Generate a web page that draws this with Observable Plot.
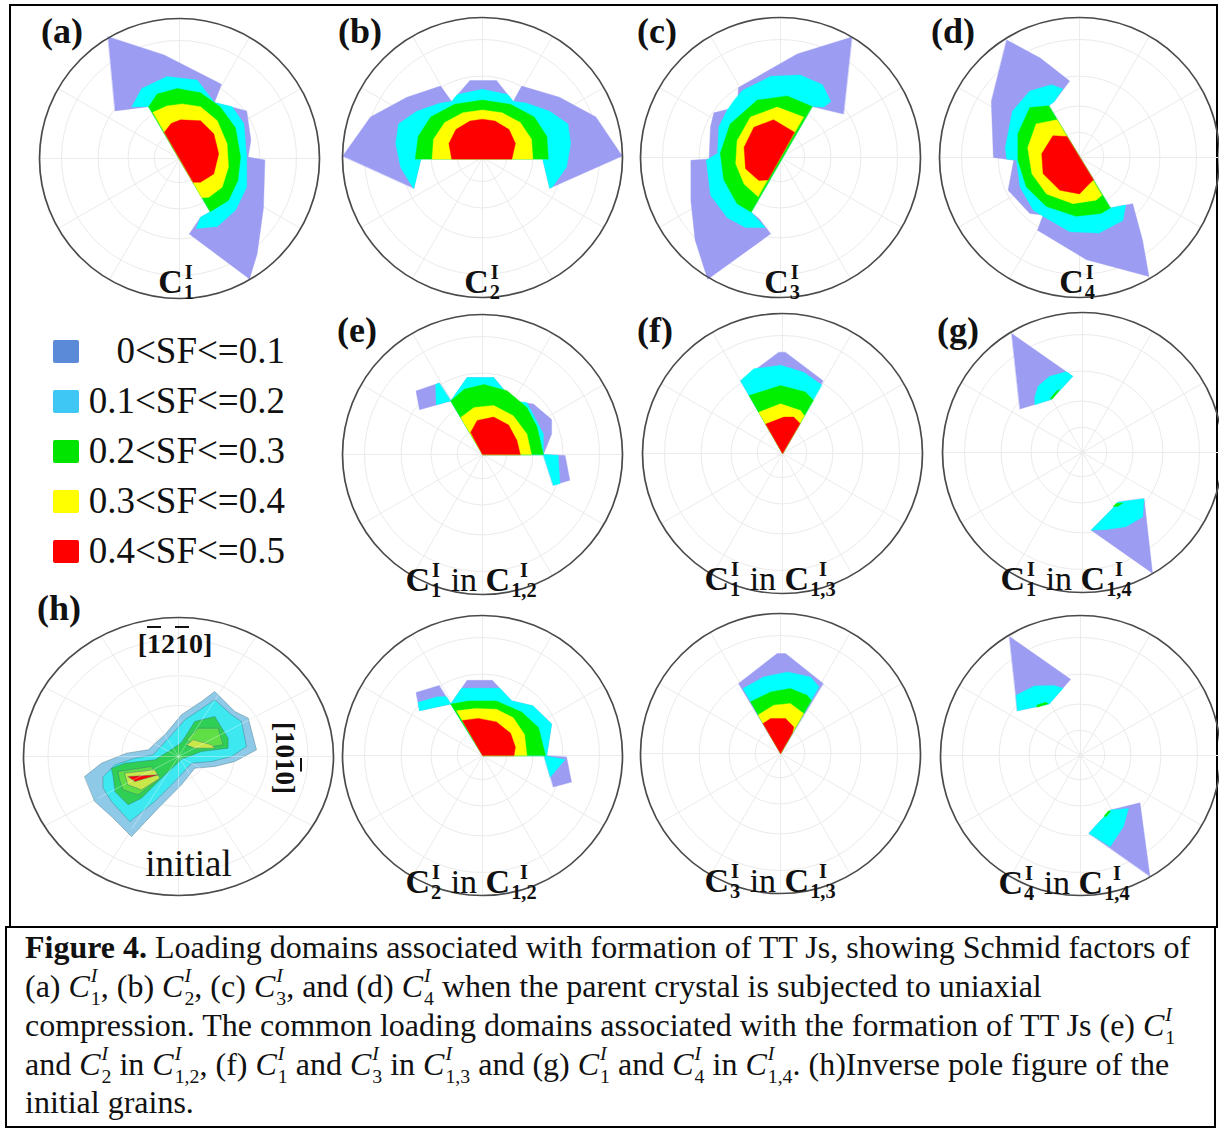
<!DOCTYPE html>
<html>
<head>
<meta charset="utf-8">
<script src="https://cdn.jsdelivr.net/npm/d3@7"></script>
<script src="https://cdn.jsdelivr.net/npm/@observablehq/plot@0.6"></script>
<style>
  html,body{margin:0;padding:0;background:#fff;}
  #fig{position:relative;width:1219px;height:1132px;overflow:hidden;font-family:"Liberation Serif","Times New Roman",serif;color:#111;}
  .abs{position:absolute;}
  .letter{position:absolute;font-weight:bold;font-size:36px;line-height:36px;white-space:nowrap;}
  .leg-sw{position:absolute;width:26px;height:23px;border-radius:2px;}
  .leg-tx{position:absolute;font-size:37px;line-height:37px;white-space:nowrap;text-align:right;width:260px;}
  .cap{position:absolute;left:25px;font-size:32px;line-height:44px;white-space:nowrap;}
  .mi{font-style:italic;}
  .ss{display:inline-block;font-size:0.62em;line-height:1.13em;vertical-align:-0.36em;text-align:left;margin-left:1px;}
  .ss span{display:block;}
  .ov{text-decoration:overline;}
  .box{position:absolute;border:2px solid #000;box-sizing:border-box;}
</style>
</head>
<body>
<div id="fig"></div>
<script>
// ---------------- data ----------------
const sfLabels = ["0<SF<=0.1", "0.1<SF<=0.2", "0.2<SF<=0.3", "0.3<SF<=0.4", "0.4<SF<=0.5"];
const mapColors = ["#9c9cf2", "#00ffff", "#00f000", "#ffff00", "#ff0000"];
const legendColors = ["#5a8ad8", "#3ec6f4", "#00e400", "#ffff00", "#ff0000"];
const ipfColors = ["#8ecae8", "#3ee8f0", "#2fcf55", "#5fdf45", "#c8e84a", "#ff0000"];

const gridTilts = [20, 40, 60, 80];                       // degrees from the centre
const gridAzimuths = [0, 30, 60, 90, 120, 150, 180, 210, 240, 270, 300, 330];

// loading-domain polygons: [SF level (1..5), [[x, y], ...]] in unit-circle coordinates
const domainA = [
  [1, [[-0.51,0.87],[-0.11,0.74],[0.30,0.53],[0.25,0.40],[0.48,0.34],[0.51,0.13],[0.49,0.01],[0.61,-0.01],[0.60,-0.35],[0.555,-0.68],[0.50,-0.86],[0.07,-0.54],[0.15,-0.42],[0.22,-0.38],[-0.22,0.37],[-0.46,0.34]]],
  [2, [[-0.34,0.37],[-0.27,0.50],[-0.09,0.585],[0.126,0.56],[0.25,0.40],[0.376,0.37],[0.46,0.25],[0.48,0.01],[0.48,-0.205],[0.40,-0.37],[0.27,-0.486],[0.12,-0.50],[0.15,-0.42],[0.22,-0.38],[-0.22,0.37]]],
  [3, [[-0.22,0.37],[-0.16,0.46],[-0.016,0.50],[0.15,0.47],[0.29,0.37],[0.40,0.22],[0.436,0.01],[0.417,-0.157],[0.35,-0.30],[0.22,-0.38]]],
  [4, [[-0.19,0.33],[-0.09,0.375],[0.02,0.39],[0.15,0.37],[0.27,0.27],[0.34,0.105],[0.35,-0.06],[0.305,-0.205],[0.21,-0.276],[0.16,-0.28]]],
  [5, [[-0.108,0.188],[-0.06,0.25],[0.007,0.276],[0.15,0.27],[0.245,0.176],[0.28,0.034],[0.245,-0.11],[0.15,-0.17],[0.098,-0.17]]]
];
const domainB = [
  [1, [[-0.998,0.01],[-0.80,0.29],[-0.54,0.43],[-0.30,0.51],[-0.22,0.40],[-0.09,0.55],[0.10,0.55],[0.22,0.40],[0.28,0.51],[0.55,0.43],[0.81,0.29],[0.998,0.01],[0.48,-0.22],[0.43,-0.01],[-0.44,-0.01],[-0.49,-0.22]]],
  [2, [[-0.50,-0.21],[-0.585,-0.07],[-0.62,0.10],[-0.60,0.24],[-0.47,0.33],[-0.30,0.39],[-0.22,0.40],[-0.18,0.45],[0,0.487],[0.18,0.45],[0.22,0.40],[0.31,0.39],[0.48,0.33],[0.61,0.24],[0.63,0.10],[0.60,-0.07],[0.50,-0.21],[0.48,-0.22],[0.43,-0.01],[-0.44,-0.01],[-0.49,-0.22]]],
  [3, [[-0.48,-0.01],[-0.46,0.15],[-0.37,0.29],[-0.2,0.38],[0,0.41],[0.2,0.38],[0.37,0.29],[0.46,0.15],[0.47,-0.01]]],
  [4, [[-0.36,-0.01],[-0.35,0.13],[-0.27,0.25],[-0.14,0.32],[0,0.34],[0.14,0.32],[0.27,0.25],[0.35,0.13],[0.36,-0.01]]],
  [5, [[-0.22,-0.01],[-0.24,0.1],[-0.19,0.2],[-0.09,0.26],[0,0.274],[0.09,0.26],[0.19,0.2],[0.235,0.1],[0.21,-0.01]]]
];
const domainC = [
  [1, [[0.51,0.86],[0.12,0.74],[-0.30,0.50],[-0.31,0.36],[-0.476,0.32],[-0.50,0.22],[-0.51,-0.01],[-0.64,-0.02],[-0.64,-0.31],[-0.61,-0.59],[-0.52,-0.87],[-0.07,-0.545],[-0.15,-0.44],[-0.21,-0.39],[0.226,0.364],[0.45,0.31]]],
  [2, [[-0.27,0.48],[-0.07,0.58],[0.14,0.59],[0.30,0.52],[0.36,0.40],[0.31,0.36],[0.226,0.364],[-0.21,-0.39],[-0.11,-0.50],[-0.25,-0.50],[-0.38,-0.43],[-0.50,-0.27],[-0.53,-0.02],[-0.45,0.03],[-0.44,0.22],[-0.38,0.34],[-0.33,0.41]]],
  [3, [[0.226,0.364],[0.048,0.44],[-0.166,0.41],[-0.36,0.24],[-0.43,0.03],[-0.405,-0.16],[-0.31,-0.33],[-0.21,-0.39]]],
  [4, [[0.165,0.29],[-0.024,0.36],[-0.214,0.29],[-0.31,0.12],[-0.32,-0.045],[-0.26,-0.19],[-0.16,-0.28]]],
  [5, [[0.10,0.18],[-0.05,0.27],[-0.19,0.216],[-0.26,0.074],[-0.25,-0.08],[-0.155,-0.164],[-0.09,-0.16]]]
];
const domainD = [
  [1, [[-0.52,0.84],[-0.28,0.71],[-0.07,0.546],[-0.18,0.40],[-0.22,0.37],[0.22,-0.36],[0.38,-0.33],[0.45,-0.59],[0.496,-0.85],[0.05,-0.73],[-0.30,-0.52],[-0.26,-0.41],[-0.355,-0.40],[-0.51,-0.234],[-0.47,-0.02],[-0.615,0.0],[-0.63,0.40]]],
  [2, [[-0.22,0.37],[-0.18,0.40],[-0.12,0.49],[-0.20,0.52],[-0.355,0.475],[-0.48,0.33],[-0.53,0.07],[-0.52,-0.01],[-0.45,-0.02],[-0.425,-0.21],[-0.33,-0.376],[-0.26,-0.42],[-0.07,-0.53],[0.14,-0.54],[0.31,-0.45],[0.33,-0.34],[0.22,-0.36]]],
  [3, [[-0.22,0.37],[-0.355,0.357],[-0.44,0.17],[-0.44,-0.02],[-0.38,-0.21],[-0.236,-0.35],[-0.024,-0.42],[0.154,-0.40],[0.22,-0.36]]],
  [4, [[-0.16,0.27],[-0.31,0.24],[-0.37,0.07],[-0.34,-0.116],[-0.236,-0.26],[-0.047,-0.33],[0.118,-0.305],[0.16,-0.27]]],
  [5, [[-0.09,0.15],[-0.19,0.156],[-0.27,0.026],[-0.26,-0.116],[-0.14,-0.234],[0,-0.26],[0.083,-0.175],[0.10,-0.16]]]
];
const domainE = [
  [1, [[0,0],[-0.227,0.383],[-0.11,0.55],[0.08,0.55],[0.22,0.383],[0.364,0.36],[0.494,0.25],[0.494,0.147],[0.435,0]]],
  [1, [[-0.227,0.383],[-0.45,0.32],[-0.475,0.454],[-0.31,0.51]]],
  [1, [[0.435,0],[0.59,-0.007],[0.624,-0.184],[0.506,-0.22]]],
  [2, [[0,0],[-0.227,0.383],[-0.11,0.55],[0.08,0.55],[0.22,0.383],[0.317,0.37],[0.435,0.147],[0.435,0]]],
  [2, [[-0.227,0.383],[-0.33,0.355],[-0.335,0.50],[-0.31,0.51]]],
  [2, [[0.435,0],[0.54,-0.005],[0.553,-0.208],[0.506,-0.22]]],
  [3, [[0,0],[-0.227,0.383],[-0.13,0.466],[0.01,0.50],[0.175,0.456],[0.317,0.336],[0.39,0.196],[0.435,0]]],
  [4, [[0,0],[-0.156,0.265],[-0.06,0.336],[0.08,0.35],[0.22,0.277],[0.317,0.147],[0.35,0]]],
  [5, [[0,0],[-0.085,0.158],[-0.038,0.243],[0.08,0.267],[0.187,0.21],[0.246,0.10],[0.27,0]]]
];
const domainE2 = [
  [1, [[0,0],[-0.227,0.367],[-0.11,0.537],[0.07,0.537],[0.21,0.39],[0.36,0.355],[0.494,0.225],[0.459,0]]],
  [1, [[-0.227,0.367],[-0.45,0.32],[-0.475,0.45],[-0.31,0.50]]],
  [1, [[0.44,0],[0.60,-0.01],[0.636,-0.19],[0.506,-0.225]]],
  [2, [[0,0],[-0.227,0.367],[-0.15,0.48],[0.124,0.48],[0.21,0.39],[0.36,0.355],[0.494,0.225],[0.459,0]]],
  [2, [[-0.227,0.367],[-0.45,0.32],[-0.46,0.38],[-0.32,0.42],[-0.26,0.42]]],
  [2, [[0.44,0],[0.59,-0.03],[0.485,-0.154]]],
  [3, [[0,0],[-0.227,0.367],[-0.10,0.39],[0.10,0.39],[0.28,0.31],[0.40,0.20],[0.45,0]]],
  [4, [[0,0],[-0.185,0.32],[-0.05,0.335],[0.10,0.33],[0.22,0.27],[0.30,0.15],[0.317,0]]],
  [5, [[0,0],[-0.144,0.25],[-0.03,0.265],[0.10,0.24],[0.20,0.16],[0.235,0.06],[0.225,0]]]
];
const domainF = [
  [1, [[0,0],[-0.30,0.52],[-0.026,0.724],[0.02,0.724],[0.29,0.52]]],
  [2, [[0,0],[-0.30,0.52],[-0.205,0.605],[-0.014,0.63],[0.152,0.58],[0.28,0.49]]],
  [3, [[0,0],[-0.239,0.414],[-0.014,0.486],[0.164,0.44],[0.22,0.38]]],
  [4, [[0,0],[-0.17,0.295],[-0.014,0.355],[0.129,0.307],[0.156,0.27]]],
  [5, [[0,0],[-0.12,0.21],[0.01,0.26],[0.08,0.26],[0.125,0.215]]]
];
const domainF2 = [
  [1, [[0,0],[-0.30,0.50],[-0.024,0.714],[0.036,0.714],[0.305,0.50]]],
  [2, [[0,0],[-0.268,0.464],[-0.12,0.547],[0.048,0.583],[0.214,0.547],[0.275,0.476]]],
  [3, [[0,0],[-0.214,0.37],[-0.07,0.44],[0.07,0.464],[0.19,0.416],[0.22,0.38]]],
  [4, [[0,0],[-0.16,0.275],[-0.048,0.345],[0.07,0.357],[0.165,0.286]]],
  [5, [[0,0],[-0.125,0.214],[-0.07,0.25],[0.036,0.25],[0.095,0.19],[0.085,0.147]]]
];
const domainG = [
  [1, [[-0.506,0.85],[-0.069,0.544],[-0.22,0.38],[-0.34,0.343],[-0.447,0.31]]],
  [1, [[0.44,-0.33],[0.50,-0.862],[0.062,-0.555],[0.215,-0.40],[0.25,-0.355]]],
  [2, [[-0.34,0.343],[-0.34,0.40],[-0.317,0.473],[-0.234,0.544],[-0.116,0.577],[-0.069,0.544],[-0.22,0.38]]],
  [2, [[0.215,-0.40],[0.25,-0.355],[0.44,-0.33],[0.43,-0.46],[0.31,-0.53],[0.17,-0.55],[0.062,-0.555]]],
  [3, [[-0.215,0.383],[-0.163,0.45],[-0.182,0.442],[-0.23,0.386]]],
  [3, [[0.22,-0.385],[0.24,-0.365],[0.29,-0.36],[0.25,-0.385]]]
];
const domainG2 = [
  [1, [[-0.508,0.85],[-0.07,0.544],[-0.224,0.367],[-0.45,0.32]]],
  [1, [[0.06,-0.555],[0.213,-0.39],[0.425,-0.338],[0.496,-0.863]]],
  [2, [[-0.46,0.43],[-0.33,0.496],[-0.19,0.50],[-0.125,0.48],[-0.224,0.367],[-0.45,0.32]]],
  [2, [[0.06,-0.555],[0.213,-0.39],[0.343,-0.378],[0.307,-0.508],[0.213,-0.65]]],
  [3, [[-0.31,0.345],[-0.23,0.37],[-0.25,0.38],[-0.31,0.36]]],
  [3, [[0.17,-0.43],[0.20,-0.395],[0.215,-0.40],[0.18,-0.44]]]
];
// inverse pole figure of the initial grains (h): contour level polygons
const ipfInitial = [
  [1, [[-0.605,-0.144],[-0.497,-0.048],[-0.335,0.024],[-0.195,0.048],[-0.088,0.156],[0.019,0.30],[0.148,0.396],[0.234,0.468],[0.363,0.324],[0.45,0.276],[0.503,0.048],[0.363,-0.036],[0.234,-0.072],[0.105,-0.084],[0.019,-0.204],[-0.131,-0.372],[-0.303,-0.576],[-0.432,-0.432],[-0.54,-0.324]]],
  [2, [[-0.486,-0.144],[-0.41,-0.06],[-0.28,-0.012],[-0.163,0.012],[-0.045,0.156],[0.041,0.264],[0.17,0.36],[0.234,0.408],[0.342,0.30],[0.406,0.252],[0.439,0.072],[0.342,0],[0.213,-0.036],[0.084,-0.048],[-0.024,-0.18],[-0.153,-0.324],[-0.314,-0.468],[-0.432,-0.324],[-0.486,-0.228]]],
  [3, [[-0.432,-0.084],[-0.346,-0.048],[-0.153,-0.024],[-0.06,0.04],[0.019,0.10],[0.105,0.252],[0.234,0.288],[0.32,0.132],[0.32,0.06],[0.148,0.036],[0.02,-0.02],[-0.11,-0.156],[-0.239,-0.30],[-0.325,-0.348],[-0.41,-0.252],[-0.42,-0.156]]],
  [4, [[-0.39,-0.108],[-0.174,-0.072],[-0.131,-0.168],[-0.26,-0.276],[-0.357,-0.24],[-0.38,-0.168]]],
  [4, [[0.052,0.12],[0.127,0.204],[0.256,0.204],[0.288,0.084],[0.148,0.06]]],
  [5, [[-0.346,-0.12],[-0.153,-0.096],[-0.12,-0.156],[-0.239,-0.24],[-0.325,-0.204]]],
  [5, [[0.052,0.084],[0.095,0.12],[0.213,0.084],[0.234,0.06],[0.105,0.06]]],
  [6, [[-0.325,-0.144],[-0.131,-0.132],[-0.28,-0.18]]]
];

const labelTop = n => [{m: "C"}, {sup: "I", sub: n}];
const labelIn = (n, pair) => [{m: "C"}, {sup: "I", sub: n}, {t: " in "}, {m: "C"}, {sup: "I", sub: pair}];

const panels = [
  {id: "a", cx: 179, cy: 158, shapes: domainA, label: labelTop("1"), ldx: -3, ldy: 134},
  {id: "b", cx: 482, cy: 157, shapes: domainB, label: labelTop("2"), ldx: 0, ldy: 135},
  {id: "c", cx: 780, cy: 157, shapes: domainC, label: labelTop("3"), ldx: 2, ldy: 135},
  {id: "d", cx: 1079, cy: 157, shapes: domainD, label: labelTop("4"), ldx: -2, ldy: 135},
  {id: "e", cx: 482, cy: 454, shapes: domainE, label: labelIn("1", "1,2"), ldx: -11, ldy: 136},
  {id: "f", cx: 782, cy: 453, shapes: domainF, label: labelIn("1", "1,3"), ldx: -12, ldy: 136},
  {id: "g", cx: 1082, cy: 452, shapes: domainG, label: labelIn("1", "1,4"), ldx: -16, ldy: 137},
  {id: "e2", cx: 482, cy: 755, shapes: domainE2, label: labelIn("2", "1,2"), ldx: -11, ldy: 137},
  {id: "f2", cx: 780, cy: 753, shapes: domainF2, label: labelIn("3", "1,3"), ldx: -10, ldy: 138},
  {id: "g2", cx: 1080, cy: 755, shapes: domainG2, label: labelIn("4", "1,4"), ldx: -16, ldy: 138}
];
const panelLetters = [["(a)", 41, 43], ["(b)", 338, 43], ["(c)", 637, 43], ["(d)", 931, 43],
                      ["(e)", 337, 342], ["(f)", 637, 342], ["(g)", 937, 342], ["(h)", 37, 620]];

// ---------------- drawing ----------------
const fig = document.getElementById("fig");
const FONT = '"Liberation Serif","Times New Roman",serif';
const ctx = document.createElement("canvas").getContext("2d");
const measure = (t, size, weight) => { ctx.font = `${weight} ${size}px "Liberation Serif"`; return ctx.measureText(t).width; };
const stereo = t => Math.tan(t * Math.PI / 360);   // stereographic radius of a tilt, 1 at 90°

function labelMarks(tokens, cdx, dy, fs) {
  const ss = fs * 0.6;
  const pieces = [];
  let x = 0;
  for (const tk of tokens) {
    if (tk.m != null || tk.t != null) {
      const txt = tk.m != null ? tk.m : tk.t, w = tk.m != null ? "bold" : "normal";
      pieces.push({txt, x, dy: 0, fs, w});
      x += measure(txt, fs, w);
    } else {
      const wsup = measure(tk.sup, ss, "bold"), wsub = measure(tk.sub, ss, "bold");
      const wmax = Math.max(wsup, wsub);
      pieces.push({txt: tk.sup, x: x + 1 + (wmax - wsup) / 2, dy: -fs * 0.40, fs: ss, w: "bold"});
      pieces.push({txt: tk.sub, x: x + 1 + (wmax - wsub) / 2, dy: fs * 0.20, fs: ss, w: "bold"});
      x += wmax + 2;
    }
  }
  const start = cdx - x / 2;
  return pieces.map(p => Plot.text([p.txt], {
    frameAnchor: "middle", text: d => d, dx: start + p.x, dy: dy + p.dy,
    textAnchor: "start", lineAnchor: "bottom", fontSize: p.fs, fontWeight: p.w,
    fontFamily: FONT, fill: "#111"
  }));
}

function drawPanel(p) {
  const RX = p.rx || 140, RY = p.ry || 140, PAD = 12;
  const W = 2 * RX + 2 * PAD, H = 2 * RY + 2 * PAD;
  const colors = p.colors || mapColors;
  const rows = p.shapes.flatMap(([level, pts], i) => pts.map(([x, y]) => ({poly: i, level, x, y})));
  const marks = [];
  for (const t of gridTilts) {
    const r = stereo(t);
    marks.push(Plot.rect([r], {x1: d => -d, x2: d => d, y1: d => -d, y2: d => d, rx: r * RX, ry: r * RY,
      fill: "none", stroke: "#ebebeb", strokeWidth: 1}));
  }
  marks.push(Plot.link(gridAzimuths, {x1: () => 0, y1: () => 0,
    x2: a => Math.cos(a * Math.PI / 180), y2: a => Math.sin(a * Math.PI / 180),
    stroke: "#ebebeb", strokeWidth: 1}));
  for (let L = 1; L <= colors.length; L++) {
    const sub = rows.filter(r => r.level === L);
    if (!sub.length) continue;
    marks.push(Plot.line(sub, {x: "x", y: "y", z: "poly", curve: "linear-closed",
      fill: colors[L - 1], stroke: p.outline || colors[L - 1],
      strokeWidth: p.outline ? 0.7 : 0.4, strokeOpacity: p.outline ? 0.6 : 1}));
  }
  if (p.spokesOnTop) {
    marks.push(Plot.link(gridAzimuths, {x1: () => 0, y1: () => 0,
      x2: a => Math.cos(a * Math.PI / 180) * 0.6, y2: a => Math.sin(a * Math.PI / 180) * 0.6,
      stroke: "#ffffff", strokeOpacity: 0.35, strokeWidth: 1}));
  }
  marks.push(Plot.frame({rx: RX, ry: RY, stroke: "#4a4a4a", strokeWidth: 1.7}));
  if (p.label) marks.push(...labelMarks(p.label, p.ldx, p.ldy, 34));
  if (p.extra) marks.push(...p.extra);
  const svg = Plot.plot({
    width: W, height: H, margin: PAD,
    x: {domain: [-1, 1], axis: null}, y: {domain: [-1, 1], axis: null},
    style: {background: "none", overflow: "visible"},
    marks
  });
  const div = document.createElement("div");
  div.className = "abs";
  Object.assign(div.style, {left: (p.cx - W / 2) + "px", top: (p.cy - H / 2) + "px", width: W + "px", height: H + "px"});
  div.appendChild(svg);
  fig.appendChild(div);
}

// frames
const outer = document.createElement("div");
outer.className = "box";
Object.assign(outer.style, {left: "9px", top: "4px", width: "1209px", height: "924px"});
fig.appendChild(outer);
const capBox = document.createElement("div");
capBox.className = "box";
Object.assign(capBox.style, {left: "5px", top: "926px", width: "1211px", height: "202px"});
fig.appendChild(capBox);

panels.forEach(drawPanel);

// (h) inverse pole figure
drawPanel({id: "h", cx: 178, cy: 756, rx: 155, ry: 139, shapes: ipfInitial, colors: ipfColors,
  outline: "#3f6f80", spokesOnTop: true,
  extra: [Plot.text(["initial"], {frameAnchor: "middle", text: d => d, dx: 10, dy: 119,
    textAnchor: "middle", lineAnchor: "bottom", fontSize: 37, fontFamily: FONT, fill: "#111"})]});

const hTop = document.createElement("div");
hTop.className = "abs";
Object.assign(hTop.style, {left: "105px", top: "630px", width: "140px", textAlign: "center",
  fontWeight: "bold", fontSize: "28px", lineHeight: "28px"});
hTop.innerHTML = '[<span class="ov">1</span>2<span class="ov">1</span>0]';
fig.appendChild(hTop);
const hRight = document.createElement("div");
hRight.className = "abs";
Object.assign(hRight.style, {left: "215px", top: "744px", width: "140px", height: "28px", textAlign: "center",
  fontWeight: "bold", fontSize: "27px", lineHeight: "28px", transform: "rotate(90deg)", transformOrigin: "50% 50%"});
hRight.innerHTML = '[10<span class="ov">1</span>0]';
fig.appendChild(hRight);

// panel letters
for (const [t, x, base] of panelLetters) {
  const d = document.createElement("div");
  d.className = "letter";
  d.style.left = x + "px";
  d.style.top = (base - 0.8375 * 36) + "px";
  d.textContent = t;
  fig.appendChild(d);
}

// legend
sfLabels.forEach((lab, i) => {
  const base = 363 + 50 * i;
  const sw = document.createElement("div");
  sw.className = "leg-sw";
  Object.assign(sw.style, {left: "53px", top: (base - 23) + "px", background: legendColors[i]});
  fig.appendChild(sw);
  const tx = document.createElement("div");
  tx.className = "leg-tx";
  Object.assign(tx.style, {left: (285 - 260) + "px", top: (base - 0.8375 * 37) + "px"});
  tx.textContent = lab;
  fig.appendChild(tx);
});

// caption
const M = sub => `<span class="mi">C</span><span class="ss"><span class="mi">I</span><span>${sub}</span></span>`;
const captionLines = [
  `<b>Figure 4.</b> Loading domains associated with formation of TT Js, showing Schmid factors of`,
  `(a) ${M("1")}, (b) ${M("2")}, (c) ${M("3")}, and (d) ${M("4")} when the parent crystal is subjected to uniaxial`,
  `compression. The common loading domains associated with the formation of TT Js (e) ${M("1")}`,
  `and ${M("2")} in ${M("1,2")}, (f) ${M("1")} and ${M("3")} in ${M("1,3")} and (g) ${M("1")} and ${M("4")} in ${M("1,4")}. (h)Inverse pole figure of the`,
  `initial grains.`
];
const captionBaselines = [958, 997, 1036, 1075, 1113];
captionLines.forEach((html, i) => {
  const d = document.createElement("div");
  d.className = "cap";
  d.style.top = (captionBaselines[i] - 32.8) + "px";
  d.innerHTML = html;
  fig.appendChild(d);
});
</script>
</body>
</html>
